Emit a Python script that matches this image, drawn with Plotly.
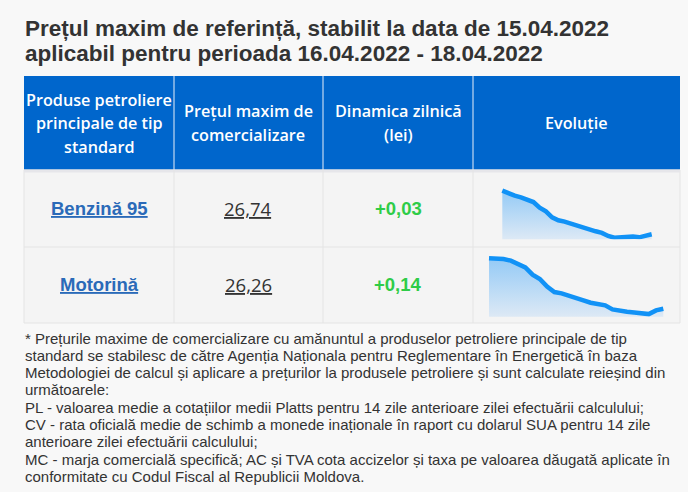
import plotly.graph_objects as go

W, H = 688, 492

# date tabel
title_lines = ["Prețul maxim de referință, stabilit la data de 15.04.2022",
               "aplicabil pentru perioada 16.04.2022 - 18.04.2022"]
headers = ["Produse petroliere<br>principale de tip<br>standard",
           "Prețul maxim de<br>comercializare",
           "Dinamica zilnică<br>(lei)",
           "Evoluție"]
products = ["Benzină 95", "Motorină"]
prices = [26.74, 26.26]
changes = [0.03, 0.14]

# evolutie (valori citite de pe sparkline)
benzina_trend = [30.50, 30.27, 30.07, 29.93, 29.70, 29.52, 29.04, 28.72, 28.20, 27.95,
                 27.83, 27.66, 27.46, 27.26, 27.08, 27.00, 26.86, 26.60, 26.45, 26.51,
                 26.54, 26.54, 26.48, 26.60, 26.74]
motorina_trend = [30.49, 30.46, 30.43, 30.29, 30.01, 29.73, 29.12, 28.75, 28.11, 27.66,
                  27.55, 27.38, 27.16, 26.96, 26.76, 26.65, 26.54, 26.20, 26.06, 26.01,
                  25.95, 25.92, 25.81, 26.12, 26.26]
trend_floor = [26.31, 25.59]

footnote = [
    "* Prețurile maxime de comercializare cu amănuntul a produselor petroliere principale de tip",
    "standard se stabilesc de către Agenția Naționala pentru Reglementare în Energetică în baza",
    "Metodologiei de calcul și aplicare a prețurilor la produsele petroliere și sunt calculate reieșind din",
    "următoarele:",
    "PL - valoarea medie a cotațiilor medii Platts pentru 14 zile anterioare zilei efectuării calculului;",
    "CV - rata oficială medie de schimb a monede inaționale în raport cu dolarul SUA pentru 14 zile",
    "anterioare zilei efectuării calculului;",
    "MC - marja comercială specifică; AC și TVA cota accizelor și taxa pe valoarea dăugată aplicate în",
    "conformitate cu Codul Fiscal al Republicii Moldova.",
]

BG = "#f8f8f8"
CELL = "#f4f4f4"
BORDER = "#e4e4e4"
BLUE = "#0066cc"
LINK = "#2a6ab8"
GREEN = "#2ecc48"
TEXT = "#333333"


def px(x):
    return x / W


def py(y):
    return 1 - y / H


# geometrie tabel
col_x = [24, 174, 323, 473, 680]
head_top, head_bot = 76, 170
row_y = [171, 247, 323]

shapes = []
annotations = []

# fundal antet
shapes.append(dict(type="rect", xref="paper", yref="paper", layer="below",
                   x0=px(col_x[0]), x1=px(col_x[-1]), y0=py(head_bot), y1=py(head_top),
                   fillcolor=BLUE, line_width=0))
for x in col_x[1:-1]:
    shapes.append(dict(type="line", xref="paper", yref="paper", layer="below",
                       x0=px(x), x1=px(x), y0=py(head_bot), y1=py(head_top),
                       line=dict(color="#e8eef8", width=1)))
# corp tabel
shapes.append(dict(type="rect", xref="paper", yref="paper", layer="below",
                   x0=px(col_x[0]), x1=px(col_x[-1]), y0=py(row_y[-1]), y1=py(head_bot),
                   fillcolor=CELL, line=dict(color=BORDER, width=1)))
shapes.append(dict(type="line", xref="paper", yref="paper", layer="below",
                   x0=px(col_x[0]), x1=px(col_x[-1]), y0=py(head_bot + 1), y1=py(head_bot + 1),
                   line=dict(color="#e6e6ea", width=3)))
for y in row_y[1:-1]:
    shapes.append(dict(type="line", xref="paper", yref="paper", layer="below",
                       x0=px(col_x[0]), x1=px(col_x[-1]), y0=py(y), y1=py(y),
                       line=dict(color=BORDER, width=1)))
for x in col_x[1:-1]:
    shapes.append(dict(type="line", xref="paper", yref="paper", layer="below",
                       x0=px(x), x1=px(x), y0=py(row_y[-1]), y1=py(head_bot),
                       line=dict(color=BORDER, width=1)))


def add_text(text, x, y, size, color, family, weight="normal", xanchor="center"):
    annotations.append(dict(text=text, x=px(x), y=py(y), xref="paper", yref="paper",
                            xanchor=xanchor, yanchor="middle", showarrow=False,
                            font=dict(size=size, color=color, family=family, weight=weight)))


# titlu
for i, line in enumerate(title_lines):
    add_text(line, 23, 28.5 + i * 25.5, 22.5, TEXT, "Liberation Sans", "bold", "left")

# antet
for c, h in enumerate(headers):
    lines = h.split("<br>")
    cx = (col_x[c] + col_x[c + 1]) / 2
    mid = 123
    for i, line in enumerate(lines):
        yy = mid + (i - (len(lines) - 1) / 2) * 23.5
        add_text(line, cx, yy, 16.2, "white", "Open Sans", 600)

# randuri
for r, name in enumerate(products):
    cy = (row_y[r] + row_y[r + 1]) / 2 - 1
    add_text('<span style="text-decoration:underline">%s</span>' % name,
             (col_x[0] + col_x[1]) / 2, cy, 18.5, LINK, "Liberation Sans", "bold")
    add_text('<span style="text-decoration:underline">%s</span>' % ("%.2f" % prices[r]).replace(".", ","),
             (col_x[1] + col_x[2]) / 2, cy, 18.5, TEXT, "Open Sans")
    add_text(("%+.2f" % changes[r]).replace(".", ","),
             (col_x[2] + col_x[3]) / 2, cy, 18.5, GREEN, "Liberation Sans", "bold")

# nota
for i, line in enumerate(footnote):
    add_text(line, 23, 338 + i * 17.3, 15, TEXT, "Liberation Sans", "normal", "left")

fig = go.Figure()

# sparkline-uri: cutie in pixeli (stanga, dreapta, sus, jos)
boxes = [(502.3, 651.7, 190.7, 239.3), (489.0, 663.3, 258.3, 316.7)]
pad = 3
trends = [benzina_trend, motorina_trend]
layout_axes = {}
for k, (vals, box, floor) in enumerate(zip(trends, boxes, trend_floor)):
    x0, x1, y0, y1 = box
    n = len(vals) - 1
    dx = n / (x1 - x0)
    top = vals[0]
    dy = (top - floor) / (y1 - y0)
    xs = list(range(len(vals)))
    suffix = "" if k == 0 else str(k + 1)
    fig.add_trace(go.Scatter(
        x=xs, y=vals, mode="lines", fill="tozeroy",
        line=dict(color="#1192f6", width=4.5),
        fillgradient=dict(type="vertical", start=floor, stop=top,
                          colorscale=[[0, "#dde9f5"], [1, "#94caf6"]]),
        xaxis="x" + suffix, yaxis="y" + suffix, hoverinfo="skip", showlegend=False))
    ax = dict(domain=[px(x0 - pad), px(x1 + pad)], range=[-pad * dx, n + pad * dx],
              visible=False, fixedrange=True)
    ay = dict(domain=[py(y1), py(y0 - pad)], range=[floor, top + pad * dy],
              visible=False, fixedrange=True)
    if k > 0:
        ax["anchor"] = "y" + suffix
        ay["anchor"] = "x" + suffix
    layout_axes["xaxis" + suffix] = ax
    layout_axes["yaxis" + suffix] = ay

fig.update_layout(
    width=W, height=H,
    margin=dict(l=0, r=0, t=0, b=0),
    paper_bgcolor=BG, plot_bgcolor="rgba(0,0,0,0)",
    shapes=shapes, annotations=annotations,
    **layout_axes,
)

fig.write_html("out.html", config={"displayModeBar": False},
               post_script="document.body.style.margin='0px';")
